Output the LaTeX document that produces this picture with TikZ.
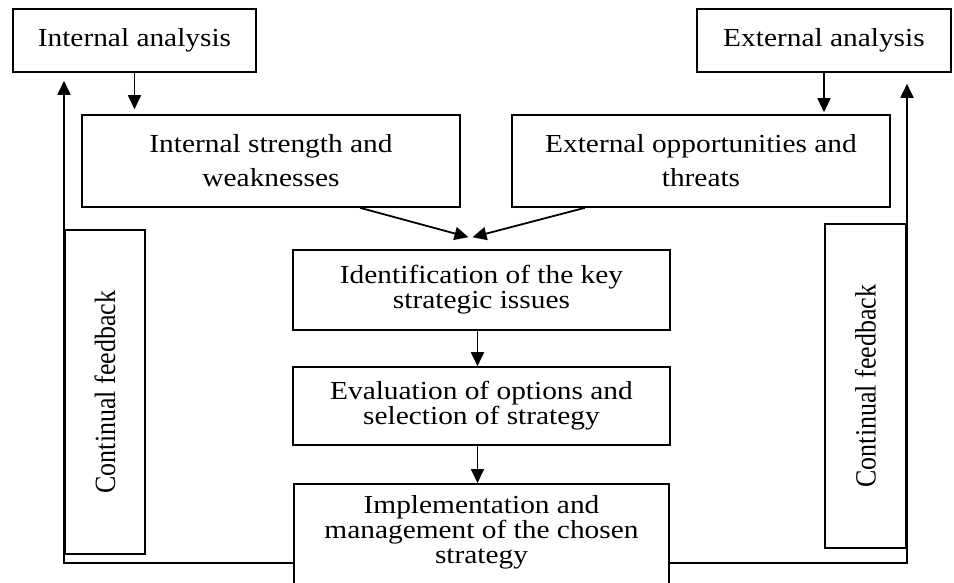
\documentclass[tikz,border=0pt]{standalone}
\usepackage{fontspec}
\setmainfont{Liberation Serif}[FakeStretch=1.13]
\newfontfamily\plainserif{Liberation Serif}
\usetikzlibrary{arrows.meta,positioning}
\tikzset{
  font=\fontsize{26}{25}\selectfont
}

\begin{document}
\begin{tikzpicture}[x=1pt,y=-1pt,line width=1.6pt,
  box/.style={rectangle,draw,line width=1.6pt,align=center,inner sep=0pt},
  topbox/.style={box,font=\fontsize{26}{34}\selectfont},
  link/.style={draw,line width=1.8pt,->},
  >={Triangle[length=14pt,width=13pt]}]
\clip (0,0) rectangle (954,582);
\node[box,minimum width=243pt,minimum height=63pt] (intana) at (134.5,40.5) {Internal analysis};
\node[box,minimum width=254pt,minimum height=63pt] (extana) at (824,40.5) {External analysis};
\node[topbox,minimum width=378pt,minimum height=92pt] (strength) at (271,161) {Internal strength and\\weaknesses};
\node[topbox,minimum width=378pt,minimum height=92pt] (opport) at (701,161) {External opportunities and\\threats};
\node[box,minimum width=377pt,minimum height=80pt] (ident) at (481.5,290) {Identification of the key\\strategic issues};
\node[box,minimum width=377pt,minimum height=78pt] (eval) at (481.5,406) {Evaluation of options and\\selection of strategy};
\node[box,minimum width=375pt,anchor=north,inner ysep=12pt] (impl) at (481.5,483) {Implementation and\\management of the chosen\\strategy\rule[-40pt]{0pt}{0pt}};
\node[box,minimum width=324pt,minimum height=80pt,rotate=90] (lfb) at (105,392) {\plainserif\scalebox{1}[1.13]{Continual feedback}};
\node[box,minimum width=324pt,minimum height=81pt,rotate=90] (rfb) at (865.5,386) {\plainserif\scalebox{1}[1.13]{Continual feedback}};
\coordinate (lcorner) at (64,563);
\coordinate (rcorner) at (907,563);
\draw[link,shorten >=5pt] (intana.south) -- (intana.south |- strength.north);
\draw[link,shorten >=2pt] (extana.south) -- (extana.south |- opport.north);
\draw[link] ([xshift=89pt]strength.south) -- ([xshift=-13pt,yshift=12pt]ident.north);
\draw[link] ([xshift=-116pt]opport.south) -- ([xshift=-9pt,yshift=12pt]ident.north);
\draw[link] ([xshift=-4pt]ident.south) -- ([xshift=-4pt]eval.north);
\draw[link] ([xshift=-4pt]eval.south) -- ([xshift=-4pt]impl.north);
\draw[link,shorten >=8pt] (impl.west |- lcorner) -- (lcorner) -- (lcorner |- intana.south);
\draw[link,shorten >=11pt] (impl.east |- rcorner) -- (rcorner) -- (rcorner |- extana.south);
\end{tikzpicture}
\end{document}
